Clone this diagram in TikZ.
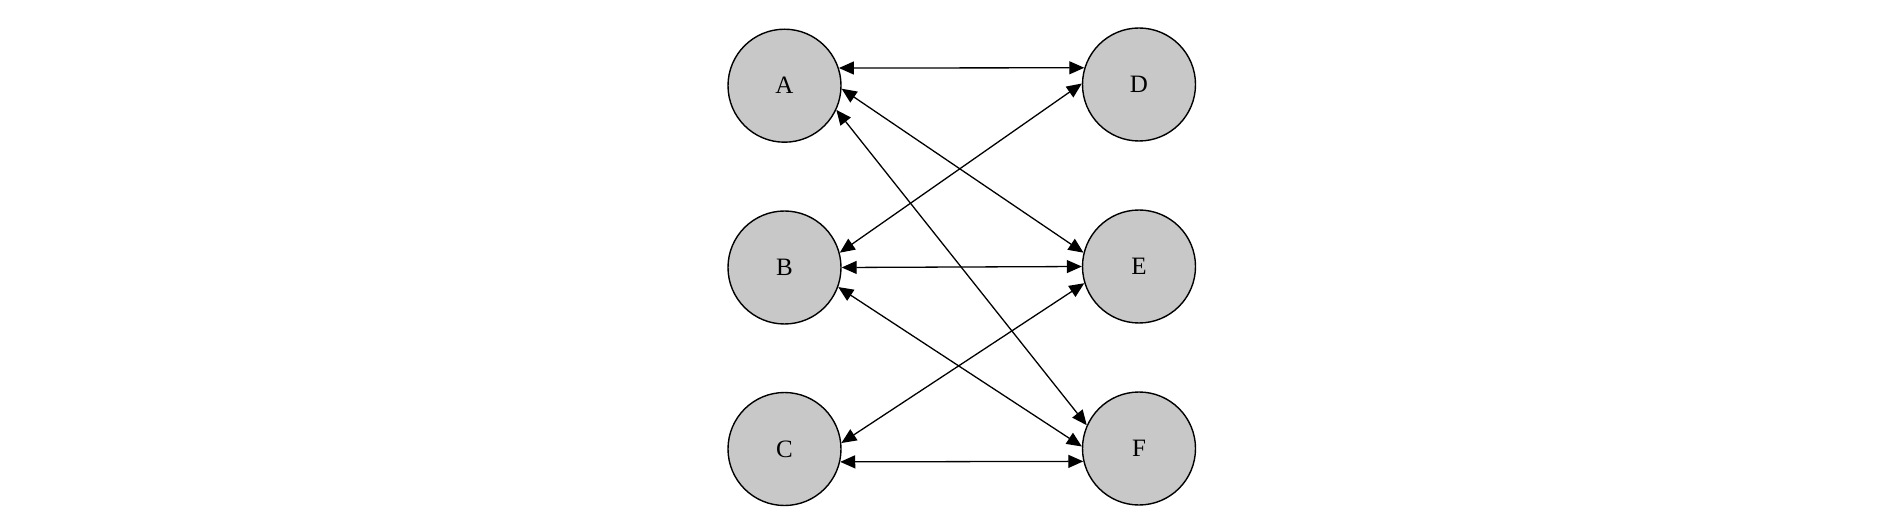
\documentclass[tikz,border=0pt]{standalone}
\usepackage{fontspec}
\setmainfont{Liberation Serif}
\usepackage{xcolor}
\usepackage{tikz}
\usetikzlibrary{arrows.meta}
\definecolor{nodegray}{RGB}{200,200,200}
\tikzset{vertex/.style={draw,circle,fill=nodegray,line width=1.4pt,inner sep=0pt,minimum size=113pt,font=\fontsize{25}{25}\selectfont}}
\tikzset{link/.style={<->,line width=1.3pt}}

\begin{document}
\begin{tikzpicture}[x=1pt,y=-1pt,>={Triangle[length=15pt,width=13pt]}]
    \useasboundingbox (0,0) rectangle (1902,526);
    % left column
    \foreach \name/\y in {A/85.7,B/267.5,C/449} {
      \node[vertex] (\name) at (784.5,\y) {\name};
    }
    % right column
    \foreach \name/\y in {D/84.5,E/266.5,F/448.5} {
      \node[vertex] (\name) at (1139,\y) {\name};
    }

    \draw[link] (A.18) -- (D.163);
    \draw[link] (A.-3) -- (E.166);
    \draw[link] (A.-25) -- (F.156);
    \draw[link] (B.15) -- (D.179);
    \draw[link] (B.0) -- (E.180);
    \draw[link] (B.-20) -- (F.178);
    \draw[link] (C.6) -- (E.-163);
    \draw[link] (C.-13) -- (F.193);
  \end{tikzpicture}
\end{document}
